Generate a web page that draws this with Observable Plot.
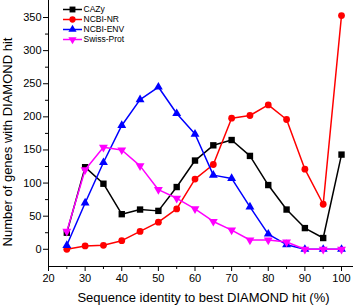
<!DOCTYPE html>
<html><head><meta charset="utf-8">
<script src="https://cdn.jsdelivr.net/npm/d3@7"></script>
<script src="https://cdn.jsdelivr.net/npm/@observablehq/plot@0.6"></script>
<style>
body{margin:0;background:#fff;}
#chart{width:360px;height:307px;font-family:"Liberation Sans",Arial,sans-serif;}
</style>
</head><body><div id="chart"></div>
<script>
// ---- data ----
const identity = [25,30,35,40,45,50,55,60,65,70,75,80,85,90,95,100];
const cazy     = [25,124,99,53,60,58,94,134,157,165,141,97,60,32,17,143];
const ncbiNR   = [0,5,6,13,27,41,61,106,128,198,202,218,196,121,68,353];
const ncbiENV  = [6,70,131,187,226,245,205,174,112,107,64,23,7,0,0,0];
const swissProt= [27,120,154,150,126,90,77,61,42,29,14,14,11,0,0,0];
const seriesNames = ["CAZy","NCBI-NR","NCBI-ENV","Swiss-Prot"];
const xTicks = [20,30,40,50,60,70,80,90,100];
const xMinorTicks = [25,35,45,55,65,75,85,95];
const yTicks = [0,50,100,150,200,250,300,350];
const yMinorTicks = [25,75,125,175,225,275,325];
const xLabel = "Sequence identity to best DIAMOND hit (%)";
const yLabel = "Number of genes with DIAMOND hit";

// ---- styling ----
const seriesValues = [cazy, ncbiNR, ncbiENV, swissProt];
const colors = ["#000000","#ff0000","#0000ff","#ff00ff"];
const invTriangle = {
  draw(context, size) {
    const y = -Math.sqrt(size / (Math.sqrt(3) * 3));
    context.moveTo(0, -y * 2);
    context.lineTo(-Math.sqrt(3) * y, y);
    context.lineTo(Math.sqrt(3) * y, y);
    context.closePath();
  }
};
const symbols = [d3.symbolSquare, d3.symbolCircle, d3.symbolTriangle, invTriangle];
const radii = [3.6, 3.4, 3.3, 3.3];

const rows = seriesNames.map((name, i) =>
  identity.map((x, j) => ({series: name, x, y: seriesValues[i][j]})));

const marks = [];
rows.forEach((data, i) => {
  marks.push(Plot.line(data, {x: "x", y: "y", stroke: colors[i], strokeWidth: 1.5}));
  marks.push(Plot.dot(data, {x: "x", y: "y", fill: colors[i], stroke: "none", symbol: symbols[i], r: radii[i]}));
});

const svg = Plot.plot({
  width: 360, height: 307,
  marginLeft: 48, marginRight: 8, marginTop: 0, marginBottom: 41,
  x: {domain: [20, 103]},
  y: {domain: [-26, 375.7]},
  style: {fontFamily: "'Liberation Sans', Arial, sans-serif", fontSize: "11px", background: "white", color: "black", overflow: "visible"},
  marks: [
    Plot.frame({anchor: "bottom", stroke: "black"}),
    Plot.frame({anchor: "left", stroke: "black"}),
    Plot.axisX({ticks: xTicks, tickSize: 5, tickPadding: 3, label: null, fontSize: 11}),
    Plot.axisX({ticks: xMinorTicks, tickSize: 3, tickFormat: () => "", label: null}),
    Plot.axisY({ticks: yTicks, tickSize: 5, tickPadding: 2, label: null, fontSize: 11}),
    Plot.axisY({ticks: yMinorTicks, tickSize: 3, tickFormat: () => "", label: null}),
    ...marks,
    Plot.text([xLabel], {frameAnchor: "bottom", textAnchor: "middle", lineAnchor: "middle", dx: 3, dy: 31.5, fontSize: 13, fill: "black"}),
    Plot.text([yLabel], {frameAnchor: "left", textAnchor: "middle", lineAnchor: "middle", rotate: -90, dx: -40.5, dy: 8.5, fontSize: 13, fill: "black"})
  ]
});

// ---- legend (inside the plot, top-left) ----
const lg = d3.select(svg).append("g")
  .attr("font-family", "'Liberation Sans', Arial, sans-serif")
  .attr("font-size", 8.5)
  .attr("text-anchor", "start");
seriesNames.forEach((name, i) => {
  const cy = 9.5 + i * 10;
  const g = lg.append("g").attr("transform", `translate(0,${cy})`);
  g.append("line").attr("x1", 63).attr("x2", 82).attr("y1", 0).attr("y2", 0)
    .attr("stroke", colors[i]).attr("stroke-width", 1.5);
  g.append("path").attr("transform", "translate(72.5,0)")
    .attr("d", d3.symbol(symbols[i], Math.PI * radii[i] * radii[i] * 0.85)())
    .attr("fill", colors[i]);
  g.append("text").attr("x", 83.5).attr("y", 0).attr("dy", "0.35em")
    .attr("text-anchor", "start")
    .attr("fill", "black").text(name);
});

document.getElementById("chart").appendChild(svg);
</script>
</body></html>
